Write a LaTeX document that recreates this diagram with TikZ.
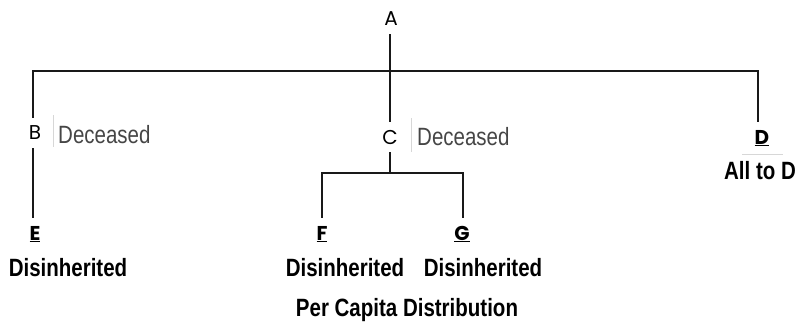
\documentclass[tikz,border=0pt]{standalone}
\usepackage{fontspec}
\setmainfont{Liberation Sans}
\newfontfamily\narrowfont{Liberation Sans}[FakeStretch=0.82]
\newfontfamily\gothicfont{Poppins}
\usetikzlibrary{positioning}
\definecolor{notegray}{RGB}{70,70,70}
\definecolor{framegray}{RGB}{215,215,215}

\begin{document}
\begin{tikzpicture}[x=1pt,y=-1pt,
  heir/.style={font=\gothicfont\fontsize{20}{20}\selectfont, inner xsep=0pt, inner ysep=8pt},
  heirul/.style={heir, font=\gothicfont\bfseries\fontsize{20}{20}\selectfont},
  note/.style={font=\narrowfont\fontsize{25}{25}\selectfont, text=notegray, inner sep=0pt},
  share/.style={font=\narrowfont\bfseries\fontsize{25}{25}\selectfont, inner sep=0pt},
  branch/.style={line width=1.7pt, black!90},
  frame/.style={line width=0.6pt, framegray}]
\useasboundingbox (0,0) rectangle (800,324);
%%%PERSONS
\node[heir] (A) at (391,19) {A};
\node[heir] (B) at (35,133) {B};
\node[heir] (C) at (390,137) {C};
\node[heirul] (D) at (762,138) {\underline{D}};
\node[heirul] (E) at (35,234) {\underline{E}};
\node[heirul] (F) at (322,234) {\underline{F}};
\node[heirul] (G) at (462,234) {\underline{G}};
%%%NOTES
\node[note, anchor=west] (decB) at (58,135) {Deceased};
\node[note, anchor=west] (decC) at (417,137) {Deceased};
\node[share] (allD) at (760,171) {All to D};
\node[share] (disE) at (68,268) {Disinherited};
\node[share] (disF) at (345,268) {Disinherited};
\node[share] (disG) at (483,268) {Disinherited};
\node[share] (title) at (407,310) {Per Capita Distribution};
%%%BARS
\coordinate (barL) at (33,71);
\coordinate (barR) at (758,71);
\coordinate (subL) at (322,173);
\coordinate (subR) at (463,173);
\draw[branch] (A.south -| C) -- (C);
\draw[branch] (B.north -| barL) |- (barR) -- (D.north -| barR);
\draw[branch] (B.south -| barL) -- (E.north -| barL);
\draw[branch] (C) -- (C |- subL);
\draw[branch] (F) -- (subL) -- (subR) -- (G.north -| subR);
%%%FRAMES
\draw[frame] ([xshift=-5pt,yshift=20pt]decB.west) -- ([xshift=-5pt,yshift=-12pt]decB.west);
\draw[frame] ([xshift=-6pt,yshift=19pt]decC.west) -- ([xshift=-6pt,yshift=-15pt]decC.west);
\draw[frame] ([xshift=-20pt]D.south) -- ([xshift=21pt]D.south);
\end{tikzpicture}
\end{document}
